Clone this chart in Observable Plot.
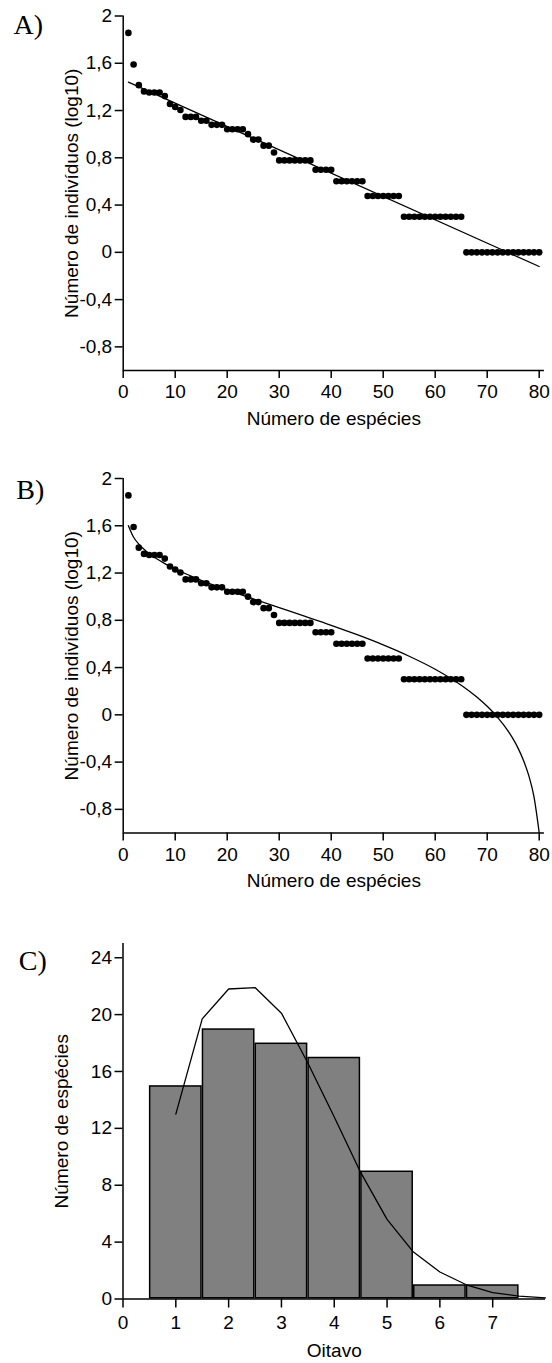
<!DOCTYPE html>
<html><head><meta charset="utf-8">
<script src="https://cdn.jsdelivr.net/npm/d3@7"></script>
<script src="https://cdn.jsdelivr.net/npm/@observablehq/plot@0.6"></script>
<style>
body{margin:0;background:#fff;}
#chart{width:552px;}
#chart svg{display:block;}
</style></head><body><div id="chart"></div>
<script>
// Species rank (1 = most abundant)
const ranks = [1,2,3,4,5,6,7,8,9,10,11,12,13,14,15,16,17,18,19,20,21,22,23,24,25,26,27,28,29,30,
  31,32,33,34,35,36,37,38,39,40,41,42,43,44,45,46,47,48,49,50,51,52,53,54,55,56,57,58,59,60,
  61,62,63,64,65,66,67,68,69,70,71,72,73,74,75,76,77,78,79,80];
// log10 number of individuals
const logAbund = [1.857,1.59,1.415,1.362,1.352,1.352,1.352,1.322,1.255,1.230,1.204,1.146,1.146,1.146,1.114,1.114,
  1.079,1.079,1.079,1.041,1.041,1.041,1.041,1.000,0.954,0.954,0.903,0.903,0.845,
  0.778,0.778,0.778,0.778,0.778,0.778,0.778,0.699,0.699,0.699,0.699,
  0.602,0.602,0.602,0.602,0.602,0.602,0.477,0.477,0.477,0.477,0.477,0.477,0.477,
  0.301,0.301,0.301,0.301,0.301,0.301,0.301,0.301,0.301,0.301,0.301,0.301,
  0,0,0,0,0,0,0,0,0,0,0,0,0,0,0];
// A) fitted straight line (geometric series)
const fitRank = [1, 80];
const fitValue = [1.44, -0.12];
// B) fitted curve (broken stick)
const stickRank = [1,2,3,4,5,6,7,8,10,12,15,20,25,30,35,40,45,50,55,60,65,68,70,72,74,75,76,77,78,79,80];
const stickValue = [1.601,1.503,1.445,1.401,1.365,1.334,1.306,1.280,1.235,1.194,1.139,1.057,0.981,0.907,0.833,
  0.758,0.678,0.592,0.496,0.386,0.251,0.151,0.072,-0.021,-0.136,-0.206,-0.288,-0.388,-0.515,-0.694,-0.998];
// C) octave histogram and fitted log-normal curve
const octaves = [1,2,3,4,5,6,7];
const speciesPerOctave = [15,19,18,17,9,1,1];
const curveOctave = [1,1.5,2,2.5,3,3.5,4,4.5,5,5.5,6,6.5,7,7.5,8];
const curveSpecies = [13,19.7,21.8,21.9,20.1,16.6,12.8,8.9,5.6,3.3,1.9,1.0,0.45,0.2,0.08];
// ticks
const xTicksAB = [0,10,20,30,40,50,60,70,80];
const yTicksAB = [-0.8,-0.4,0,0.4,0.8,1.2,1.6,2];
const xTicksC = [0,1,2,3,4,5,6,7];
const yTicksC = [0,4,8,12,16,20,24];

const sans = "'Liberation Sans', Arial, Helvetica, sans-serif";
const serif = "'Liberation Serif', 'Times New Roman', serif";
const FS = 19;
const fmt = d => String(d).replace(".", ",");

function rankPanel({letter, letterDx, letterDy, height, marginTop, curve}) {
  return Plot.plot({
    width: 552, height,
    marginTop, marginBottom: height - marginTop - 354.5, marginLeft: 122.7, marginRight: 8.1,
    style: {fontFamily: sans, fontSize: FS + "px", color: "#000", background: "#fff", overflow: "visible"},
    x: {domain: [0, 81]},
    y: {domain: [-1, 2]},
    marks: [
      curve,
      Plot.dot(logAbund, {x: ranks, y: logAbund, r: 3.3, fill: "#000", stroke: "none"}),
      Plot.ruleX([0], {stroke: "#000", strokeWidth: 1.5}),
      Plot.ruleY([-1], {stroke: "#000", strokeWidth: 1.5}),
      Plot.axisX({ticks: xTicksAB, tickFormat: fmt, tickSize: 8, tickPadding: 6, strokeWidth: 1.5, label: null, fontSize: FS}),
      Plot.axisY({ticks: yTicksAB, tickFormat: fmt, tickSize: 8, tickPadding: 3, strokeWidth: 1.5, label: null, fontSize: FS}),
      Plot.text(["Número de espécies"], {frameAnchor: "bottom", dy: 48, lineAnchor: "middle", textAnchor: "middle", fontSize: FS, fill: "#000"}),
      Plot.text(["Número de indivíduos (log10)"], {frameAnchor: "left", rotate: -90, dx: -51.7, lineAnchor: "middle", textAnchor: "middle", fontSize: FS, fill: "#000"}),
      Plot.text([letter], {frameAnchor: "top-left", dx: letterDx, dy: letterDy, lineAnchor: "middle", textAnchor: "start", fontFamily: serif, fontSize: 28, fill: "#000"})
    ]
  });
}

const panelA = rankPanel({
  letter: "A)", letterDx: -109.7, letterDy: 9.5, height: 440, marginTop: 15.5,
  curve: Plot.line(fitValue, {x: fitRank, y: fitValue, stroke: "#000", strokeWidth: 1.3})
});
const panelB = rankPanel({
  letter: "B)", letterDx: -107, letterDy: 12, height: 465, marginTop: 38,
  curve: Plot.line(stickValue, {x: stickRank, y: stickValue, stroke: "#000", strokeWidth: 1.3, curve: "monotone-x"})
});

const panelC = Plot.plot({
  width: 552, height: 458,
  marginTop: 38, marginBottom: 64.5, marginLeft: 122.5, marginRight: 7,
  style: {fontFamily: sans, fontSize: FS + "px", color: "#000", background: "#fff", overflow: "visible"},
  x: {domain: [0, 8]},
  y: {domain: [0, 25]},
  marks: [
    Plot.rectY(speciesPerOctave, {x1: octaves.map(o => o - 0.5), x2: octaves.map(o => o + 0.5), y1: 0, y2: speciesPerOctave,
      fill: "#808080", stroke: "#000", strokeWidth: 1.5, inset: 0.75}),
    Plot.line(curveSpecies, {x: curveOctave, y: curveSpecies, stroke: "#000", strokeWidth: 1.3}),
    Plot.ruleX([0], {stroke: "#000", strokeWidth: 1.5}),
    Plot.ruleY([0], {stroke: "#000", strokeWidth: 1.5}),
    Plot.axisX({ticks: xTicksC, tickSize: 9, tickPadding: 7.5, strokeWidth: 1.5, label: null, fontSize: FS}),
    Plot.axisY({ticks: yTicksC, tickSize: 8, tickPadding: 3, strokeWidth: 1.5, label: null, fontSize: FS}),
    Plot.text(["Oitavo"], {frameAnchor: "bottom", dy: 52, lineAnchor: "middle", textAnchor: "middle", fontSize: FS, fill: "#000"}),
    Plot.text(["Número de espécies"], {frameAnchor: "left", rotate: -90, dx: -61, lineAnchor: "middle", textAnchor: "middle", fontSize: FS, fill: "#000"}),
    Plot.text(["C)"], {frameAnchor: "top-left", dx: -104.2, dy: 17.3, lineAnchor: "middle", textAnchor: "start", fontFamily: serif, fontSize: 28, fill: "#000"})
  ]
});

const root = document.getElementById("chart");
root.append(panelA, panelB, panelC);
</script></body></html>
